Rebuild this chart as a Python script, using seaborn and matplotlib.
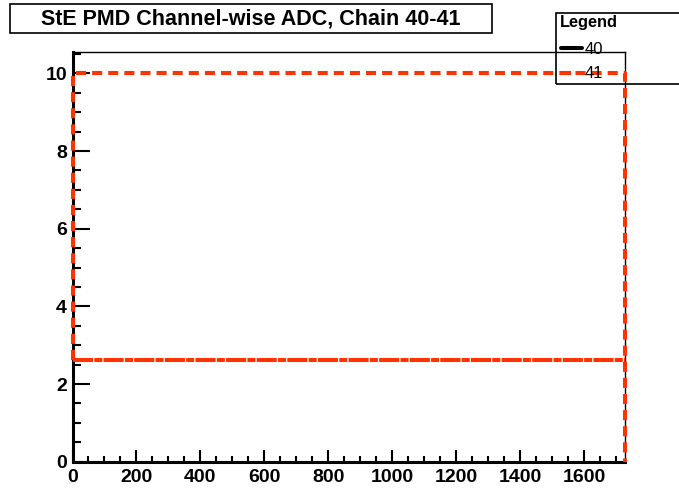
import matplotlib
matplotlib.use("Agg")
import matplotlib.pyplot as plt
import pandas as pd
import seaborn as sns
from matplotlib.patches import Rectangle
from matplotlib.ticker import MultipleLocator

sns.set_style("white")
plt.rcParams["font.family"] = ["Liberation Sans", "DejaVu Sans"]
plt.rcParams["text.color"] = "black"
plt.rcParams["xtick.color"] = "black"
plt.rcParams["ytick.color"] = "black"

TITLE = "StE PMD Channel-wise ADC, Chain 40-41"
SERIES_LABELS = ["40", "41"]

# chain 41 outline (channel, adc)
ch_41 = [0, 0, 1728, 1728]
adc_41 = [2.62, 10.0, 10.0, 0.0]
# chain 41 flat pedestal level across channels
ch_41_base = [0, 1728]
adc_41_base = [2.62, 2.62]

X_MAX = 1728
Y_MAX = 10.55
RED = "#ff3300"
DASH = (0, (2.5, 1.5))

W, H = 679, 490
fig = plt.figure(figsize=(W / 100, H / 100), dpi=100)
ax = fig.add_axes([72.5 / W, 1 - 461.7 / H, (625 - 72.5) / W, (461.7 - 52) / H])

outline = pd.DataFrame({"channel": ch_41, "adc": adc_41})
base = pd.DataFrame({"channel": ch_41_base, "adc": adc_41_base})

sns.lineplot(data=base, x="channel", y="adc", sort=False, estimator=None, ax=ax,
             color=RED, lw=2.9, linestyle=(0, (5, 0.3, 2, 0.3)), clip_on=False,
             zorder=4)
sns.lineplot(data=outline, x="channel", y="adc", sort=False, estimator=None, ax=ax,
             color=RED, lw=2.9, linestyle=DASH, clip_on=False, zorder=4)

ax.set_xlim(0, X_MAX)
ax.set_ylim(0, Y_MAX)
ax.set_xlabel("")
ax.set_ylabel("")

ax.xaxis.set_major_locator(MultipleLocator(200))
ax.xaxis.set_minor_locator(MultipleLocator(50))
ax.yaxis.set_major_locator(MultipleLocator(2))
ax.yaxis.set_minor_locator(MultipleLocator(0.5))

ax.tick_params(axis="x", which="major", direction="in", length=9, width=1.5,
               labelsize=14, pad=5, top=False, bottom=True)
ax.tick_params(axis="x", which="minor", direction="in", length=4.5, width=1.5,
               top=False, bottom=True)
ax.tick_params(axis="y", which="major", direction="in", length=12, width=1.5,
               labelsize=14, pad=4, left=True, right=False)
ax.tick_params(axis="y", which="minor", direction="in", length=6, width=1.5,
               left=True, right=False)
for lbl in ax.get_xticklabels() + ax.get_yticklabels():
    lbl.set_fontweight("bold")

for side in ["left", "bottom"]:
    ax.spines[side].set_linewidth(2.2)
    ax.spines[side].set_color("black")
for side in ["top", "right"]:
    ax.spines[side].set_linewidth(1.0)
    ax.spines[side].set_color("black")
    ax.spines[side].set_visible(True)

# title box
fig.patches.append(Rectangle((10 / W, 1 - 33.5 / H), (492 - 10) / W, 29.5 / H,
                             transform=fig.transFigure, facecolor="white",
                             edgecolor="black", lw=1.2, zorder=5))
fig.text(251 / W, 1 - 18.5 / H, TITLE, ha="center", va="center",
         fontsize=15.5, fontweight="bold", zorder=6)

# legend box (runs off the right edge like the original)
fig.patches.append(Rectangle((556 / W, 1 - 84 / H), 160 / W, 71 / H,
                             transform=fig.transFigure, facecolor="none",
                             edgecolor="black", lw=1.2, zorder=5))
fig.text(560 / W, 1 - 23 / H, "Legend", ha="left", va="center",
         fontsize=11.8, fontweight="bold")
fig.add_artist(plt.Line2D([561 / W, 582 / W], [1 - 48 / H, 1 - 48 / H],
                          transform=fig.transFigure, color="black", lw=2.9))
fig.text(585 / W, 1 - 49 / H, SERIES_LABELS[0], ha="left", va="center", fontsize=12)
fig.add_artist(plt.Line2D([561 / W, 582 / W], [1 - 73 / H, 1 - 73 / H],
                          transform=fig.transFigure, color=RED, lw=2.9,
                          linestyle=DASH))
fig.text(585 / W, 1 - 74 / H, SERIES_LABELS[1], ha="left", va="center", fontsize=12)

fig.savefig("out.png", dpi=100)
